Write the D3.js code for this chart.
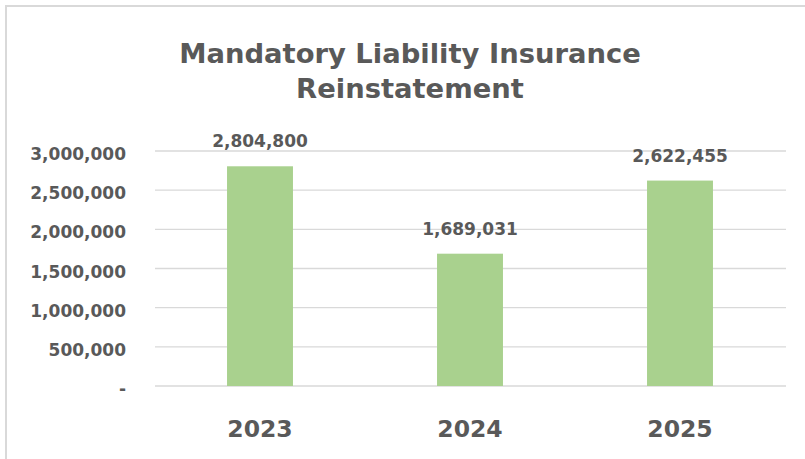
<!DOCTYPE html>
<html lang="en">
<head>
<meta charset="UTF-8">
<title>Mandatory Liability Insurance Reinstatement</title>
<script src="https://cdn.jsdelivr.net/npm/d3@7/dist/d3.min.js"></script>
<style type="text/css">
	body { margin: 0; background: #fff; }
	text { font-family: "DejaVu Sans", sans-serif; font-weight: bold; fill: #595959; }
</style>
</head>
<body>
<script type="text/javascript">

	//Data
	var years = ["2023", "2024", "2025"];
	var reinstatements = [2804800, 1689031, 2622455];
	var yTicks = [0, 500000, 1000000, 1500000, 2000000, 2500000, 3000000];
	var titleLines = ["Mandatory Liability Insurance", "Reinstatement"];

	//Width and height
	var w = 805;
	var h = 459;
	//plot area (note: "top" is reserved on window, so use plot*)
	var plotLeft = 155, plotRight = 785, plotTop = 151, plotBottom = 386;

	var svg = d3.select("body")
				.append("svg")
				.attr("width", w)
				.attr("height", h);

	//Chart border (right and bottom edges fall outside the picture)
	svg.append("rect")
		.attr("x", 6)
		.attr("y", 6)
		.attr("width", 900)
		.attr("height", 600)
		.attr("fill", "none")
		.attr("stroke", "#d9d9d9")
		.attr("stroke-width", 2);

	//Title
	svg.selectAll("text.title")
		.data(titleLines)
		.enter()
		.append("text")
		.attr("class", "title")
		.attr("x", 410)
		.attr("y", function(d, i) { return 63 + i * 35; })
		.attr("text-anchor", "middle")
		.style("font-size", "27.4px")
		.text(function(d) { return d; });

	var x = d3.scaleBand()
		.domain(years)
		.range([plotLeft, plotRight])
		.paddingInner(0.686)
		.paddingOuter(0.343);

	var y = d3.scaleLinear()
		.domain([0, 3000000])
		.range([plotBottom, plotTop]);

	//Gridlines
	svg.append("g")
		.selectAll("line")
		.data(yTicks)
		.enter()
		.append("line")
		.attr("x1", plotLeft)
		.attr("x2", plotRight + 1)
		.attr("y1", function(d) { return y(d); })
		.attr("y2", function(d) { return y(d); })
		.attr("stroke", "#d9d9d9")
		.attr("stroke-width", 1.4);

	//Y axis
	var fmt = d3.format(",");
	var yAxis = svg.append("g")
		.attr("transform", "translate(" + plotLeft + ",0)")
		.call(d3.axisLeft(y)
			.tickValues(yTicks)
			.tickSize(0)
			.tickPadding(29)
			.tickFormat(function(d) { return d === 0 ? "-" : fmt(d); }));
	yAxis.select(".domain").remove();
	yAxis.attr("font-family", null).attr("font-size", null);
	yAxis.selectAll("text")
		.attr("dy", "0.5em")
		.attr("fill", null)
		.style("font-size", "17px");

	//Bars
	var data = years.map(function(d, i) { return { year: d, value: reinstatements[i] }; });

	svg.selectAll("rect.bar")
		.data(data)
		.enter()
		.append("rect")
		.attr("class", "bar")
		.attr("x", function(d) { return x(d.year); })
		.attr("width", x.bandwidth())
		.attr("y", function(d) { return y(d.value); })
		.attr("height", function(d) { return plotBottom - y(d.value); })
		.attr("fill", "#a9d18e");

	//Data labels
	svg.selectAll("text.label")
		.data(data)
		.enter()
		.append("text")
		.attr("class", "label")
		.attr("x", function(d) { return x(d.year) + x.bandwidth() / 2; })
		.attr("y", function(d) { return y(d.value) - 19; })
		.attr("text-anchor", "middle")
		.style("font-size", "17px")
		.text(function(d) { return fmt(d.value); });

	//X axis
	var xAxis = svg.append("g")
		.attr("transform", "translate(0," + plotBottom + ")")
		.call(d3.axisBottom(x).tickSize(0).tickPadding(34));
	xAxis.select(".domain").remove();
	xAxis.attr("font-family", null).attr("font-size", null);
	xAxis.selectAll("text")
		.attr("fill", null)
		.style("font-size", "23.5px");

</script>
</body>
</html>
